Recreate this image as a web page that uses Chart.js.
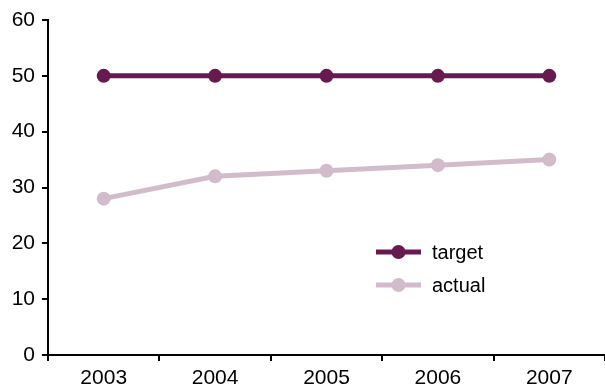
<!DOCTYPE html>
<html>
<head>
<meta charset="utf-8">
<script src="https://cdn.jsdelivr.net/npm/chart.js@4/dist/chart.umd.min.js"></script>
<style>
  html, body { margin: 0; padding: 0; background: #fff; overflow: hidden; }
  #wrap { position: relative; width: 612px; height: 391px; }
</style>
</head>
<body>
<div id="wrap"><canvas id="chart"></canvas></div>
<script>
// Target vs actual, 2003-2007
const years = ['2003', '2004', '2005', '2006', '2007'];
const targetValues = [50, 50, 50, 50, 50];
const actualValues = [28, 32, 33, 34, 35];
const seriesNames = ['target', 'actual'];
const seriesColors = ['#661a4f', '#d2bccb'];

const axisFont = 'Liberation Sans, Arial, Helvetica, sans-serif';

// Small legend drawn inside the plot, lower right
const insideLegend = {
    id: 'insideLegend',
    afterDraw(chart) {
        const ctx = chart.ctx;
        const x0 = 376, x1 = 421;
        const rows = [252, 285];
        ctx.save();
        chart.data.datasets.forEach((ds, i) => {
            const y = rows[i];
            ctx.strokeStyle = ds.borderColor;
            ctx.lineWidth = 5;
            ctx.beginPath();
            ctx.moveTo(x0, y);
            ctx.lineTo(x1, y);
            ctx.stroke();
            ctx.fillStyle = ds.borderColor;
            ctx.beginPath();
            ctx.arc((x0 + x1) / 2, y, 7, 0, 2 * Math.PI);
            ctx.fill();
            ctx.fillStyle = '#000';
            ctx.font = '20px Liberation Sans Narrow, Arial Narrow, Liberation Sans, sans-serif';
            ctx.textBaseline = 'middle';
            ctx.fillText(ds.label, 432, y + 1);
        });
        ctx.restore();
    }
};

const ctx = document.getElementById('chart').getContext('2d');
new Chart(ctx, {
    type: 'line',
    data: {
        labels: years,
        datasets: [
            {
                label: seriesNames[0],
                data: targetValues,
                borderColor: seriesColors[0],
                backgroundColor: seriesColors[0],
                borderWidth: 5,
                pointRadius: 7,
                pointBackgroundColor: seriesColors[0],
                pointBorderWidth: 0,
                tension: 0
            },
            {
                label: seriesNames[1],
                data: actualValues,
                borderColor: seriesColors[1],
                backgroundColor: seriesColors[1],
                borderWidth: 5,
                pointRadius: 7,
                pointBackgroundColor: seriesColors[1],
                pointBorderWidth: 0,
                tension: 0
            }
        ]
    },
    options: {
        responsive: true,
        maintainAspectRatio: false,
        animation: false,
        layout: { padding: { top: 20, right: 0, left: 0, bottom: 0 } },
        plugins: {
            legend: { display: false },
            tooltip: { enabled: false }
        },
        scales: {
            x: {
                offset: true,
                grid: {
                    offset: true,
                    drawOnChartArea: false,
                    drawTicks: true,
                    tickLength: 6,
                    color: '#000',
                    lineWidth: 2
                },
                border: { color: '#000', width: 2 },
                ticks: {
                    color: '#000',
                    padding: 5,
                    maxRotation: 0,
                    font: { family: axisFont, size: 21 }
                },
                afterFit(scale) { scale.height = 36; }
            },
            y: {
                min: 0,
                max: 60,
                ticks: {
                    stepSize: 10,
                    color: '#000',
                    padding: 7,
                    font: { family: axisFont, size: 21 }
                },
                grid: {
                    drawOnChartArea: false,
                    drawTicks: true,
                    tickLength: 6,
                    color: '#000',
                    lineWidth: 2
                },
                border: { color: '#000', width: 2 },
                afterFit(scale) { scale.width = 48; }
            }
        }
    },
    plugins: [insideLegend]
});
</script>
</body>
</html>
